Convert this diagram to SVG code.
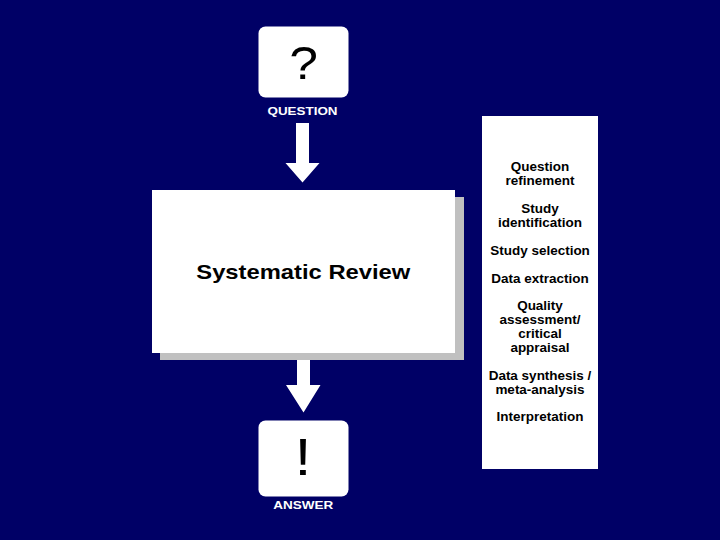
<svg xmlns="http://www.w3.org/2000/svg" width="720" height="540" viewBox="0 0 720 540">
<style>
.lbl{font-family:"Liberation Sans",Arial,sans-serif;font-weight:bold;fill:#ffffff;text-anchor:middle;}
.step{font-family:"Liberation Sans",Arial,sans-serif;font-weight:bold;font-size:12.5px;fill:#000000;text-anchor:middle;}
.box{fill:#ffffff;}
.arrow{fill:#ffffff;}
</style>
<rect x="0" y="0" width="720" height="540" fill="#000066"/>
<g id="question">
<rect class="box" x="258.5" y="26.5" width="90" height="71" rx="7"/>
<text x="0" y="0" transform="translate(303.5,78.5) scale(1.12,1)" font-family="Liberation Sans,Arial,sans-serif" font-size="46" text-anchor="middle" fill="#000000">?</text>
<text class="lbl" x="302.5" y="115" font-size="11.5" textLength="70" lengthAdjust="spacingAndGlyphs">QUESTION</text>
</g>
<g id="connectors">
<polygon class="arrow" points="296,123 309,123 309,163 319.5,163 302.5,182.5 285.5,163 296,163"/>
<polygon class="arrow" points="297,358 310,358 310,385 320.5,385 303.5,412.5 286,385 297,385"/>
</g>
<g id="systematic-review">
<rect x="160" y="197" width="304" height="163" fill="#c0c0c0"/>
<rect class="box" x="152" y="190" width="303" height="163"/>
<text x="303.3" y="279" font-family="Liberation Sans,Arial,sans-serif" font-weight="bold" font-size="21" text-anchor="middle" fill="#000000" textLength="214" lengthAdjust="spacingAndGlyphs">Systematic Review</text>
</g>
<g id="answer">
<rect class="box" x="258.5" y="420.5" width="90" height="76" rx="7"/>
<text x="0" y="0" transform="translate(303,475) scale(1.2,1)" font-family="Liberation Sans,Arial,sans-serif" font-size="51" text-anchor="middle" fill="#000000">!</text>
<text class="lbl" x="303.3" y="508.5" font-size="11.5" textLength="60" lengthAdjust="spacingAndGlyphs">ANSWER</text>
</g>
<g id="steps">
<rect class="box" x="482" y="116" width="116" height="353"/>
<g transform="translate(540,0) scale(1.08,1)">
<text class="step" x="0" y="171">Question</text>
<text class="step" x="0" y="185">refinement</text>
<text class="step" x="0" y="213">Study</text>
<text class="step" x="0" y="227">identification</text>
<text class="step" x="0" y="255">Study selection</text>
<text class="step" x="0" y="283">Data extraction</text>
<text class="step" x="0" y="310">Quality</text>
<text class="step" x="0" y="324">assessment/</text>
<text class="step" x="0" y="338">critical</text>
<text class="step" x="0" y="352">appraisal</text>
<text class="step" x="0" y="380">Data synthesis /</text>
<text class="step" x="0" y="394">meta-analysis</text>
<text class="step" x="0" y="421">Interpretation</text>
</g>
</g>
</svg>
